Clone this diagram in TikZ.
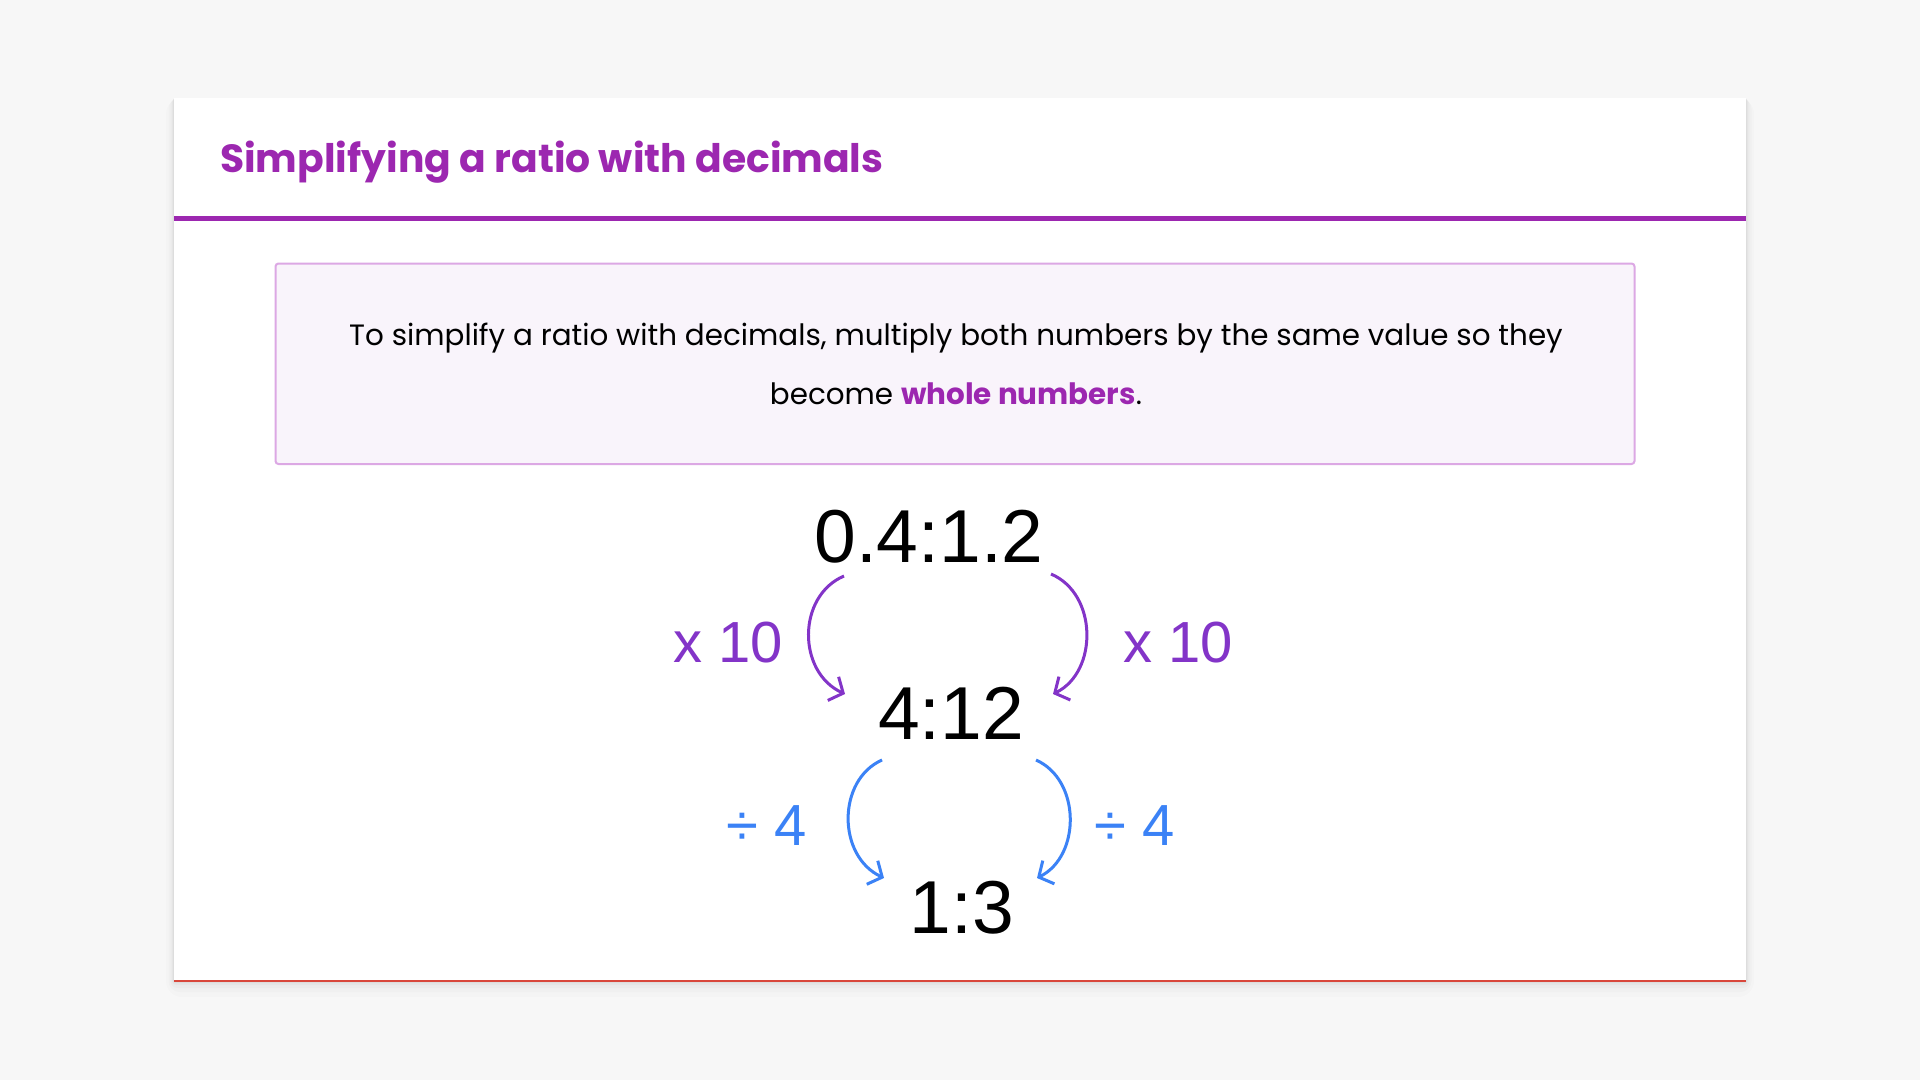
\documentclass[tikz,border=0pt]{standalone}
\usepackage{fontspec}
\setmainfont{Poppins}
\newfontfamily\numfont{Liberation Sans}
\usetikzlibrary{arrows.meta}
\definecolor{pagebg}{HTML}{F7F7F7}
\definecolor{titlepurple}{HTML}{9C27B0}
\definecolor{boxborder}{HTML}{DCA8E4}
\definecolor{boxfill}{HTML}{F9F4FB}
\definecolor{mulpurple}{HTML}{8334C8}
\definecolor{divblue}{HTML}{3B82F6}
\definecolor{cardline}{HTML}{D9473B}
\tikzset{
  ratio/.style={font=\numfont\fontsize{75}{80}\selectfont, text=black, inner sep=0pt, anchor=center},
  oplabel/.style={font=\numfont\fontsize{58}{62}\selectfont, inner sep=0pt, anchor=center},
  mularrow/.style={draw=mulpurple, line width=3pt, -{Straight Barb[length=11pt,width=26pt,line width=3pt]}},
  divarrow/.style={draw=divblue, line width=3pt, -{Straight Barb[length=11pt,width=26pt,line width=3pt]}},
}
\begin{document}
\begin{tikzpicture}[x=1pt,y=-1pt]
\useasboundingbox (0,0) rectangle (1920,1080);
\fill[pagebg] (0,0) rectangle (1920,1080);
% card shadow
\foreach \s/\o in {16/0.012,11/0.016,7/0.02,4/0.025,2/0.03}{
  \fill[black,opacity=\o,rounded corners=\s pt] (174-\s*0.5,98) rectangle (1746+\s*0.5,981+\s);
}
\fill[white] (174,98) rectangle (1746,981);
\draw[cardline,line width=1.5pt] (174,981) -- (1746,981);
% title
\node[anchor=west, inner sep=0pt, text=titlepurple, font=\fontsize{39.3}{44}\selectfont\bfseries] (title) at (220,162) {Simplifying a ratio with decimals};
\fill[titlepurple] (174,215.5) rectangle (1746,220.5);
% info box
\draw[draw=boxborder, fill=boxfill, line width=2pt, rounded corners=3pt] (275.5,263.5) rectangle (1634.5,464) node[pos=0.5, inner sep=0pt] (info) {};
\node[align=center, inner sep=0pt, font=\fontsize{29.4}{59}\selectfont] (infotext) at (956,364) {To simplify a ratio with decimals, multiply both numbers by the same value so they\\become {\bfseries\color{titlepurple}whole numbers}.};
% ratios
\node[ratio] (r1) at (929,537) {0.4:1.2};
\node[ratio] (r2) at (951,713) {4:12};
\node[ratio] (r3) at (962,908) {1:3};
% labels
\node[oplabel, text=mulpurple] (ml) at (728,643) {x 10};
\node[oplabel, text=mulpurple] (mr) at (1178,643) {x 10};
\node[oplabel, text=divblue] (dl) at (767,826) {÷ 4};
\node[oplabel, text=divblue] (dr) at (1135,826) {÷ 4};
% arrow ends
\coordinate (a1s) at (844,576); \coordinate (a1e) at (845,694);
\coordinate (a2s) at (1051,574); \coordinate (a2e) at (1053,694);
\coordinate (b1s) at (882,760); \coordinate (b1e) at (884,878);
\coordinate (b2s) at (1036,760); \coordinate (b2e) at (1037,878);
\draw[mularrow] (a1s) .. controls (797,596) and (797,672) .. (a1e);
\draw[mularrow] (a2s) .. controls (1098,594) and (1098,672) .. (a2e);
\draw[divarrow] (b1s) .. controls (837,780) and (837,856) .. (b1e);
\draw[divarrow] (b2s) .. controls (1081,780) and (1081,856) .. (b2e);
\end{tikzpicture}
\end{document}
